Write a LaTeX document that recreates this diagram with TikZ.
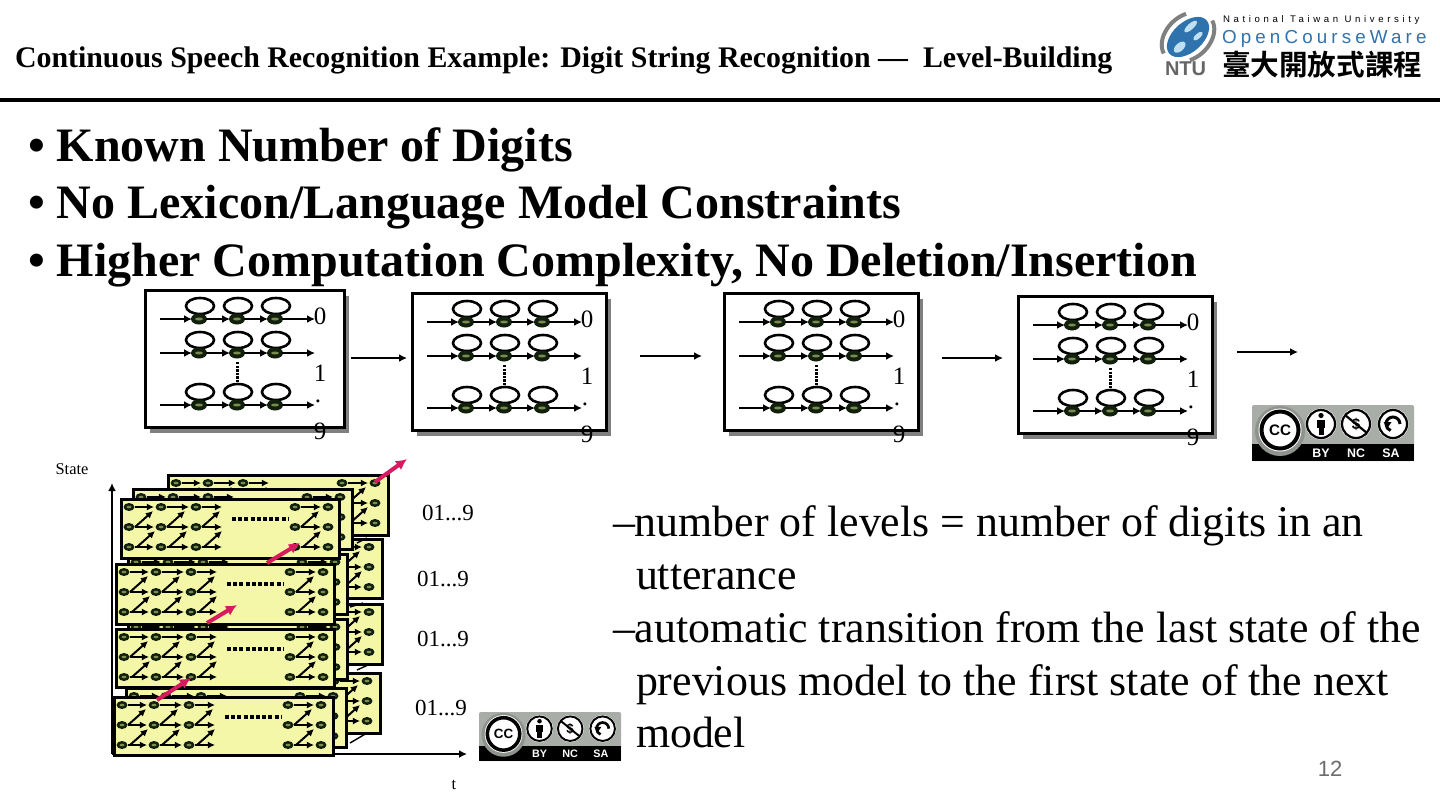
\documentclass[tikz,border=0pt]{standalone}
\usepackage{fontspec}
\setmainfont{Liberation Serif}
\setsansfont{Liberation Sans}
\newfontfamily\cjk[BoldFont={Noto Sans CJK TC Bold}]{Noto Sans CJK TC}
\newfontfamily\spaced[LetterSpace=38]{Liberation Sans}
\newfontfamily\spacedo[LetterSpace=22]{Liberation Sans}
\usetikzlibrary{arrows.meta}
\definecolor{cellyellow}{HTML}{F4F7A8}
\definecolor{statefill}{HTML}{7C8A50}
\definecolor{statedark}{HTML}{10200C}
\definecolor{pinkarrow}{HTML}{D81B60}
\definecolor{shadowgray}{HTML}{808080}
\definecolor{ccgray}{HTML}{A8ADA8}
\definecolor{cchalo}{HTML}{8E938E}
\definecolor{oblue}{HTML}{2F73AE}
\definecolor{lblue}{HTML}{BFE0F2}
\tikzset{
  base/.style={inner sep=0pt,outer sep=0pt,anchor=base west,text=black},
  title/.style={base,font=\bfseries\fontsize{14.94}{15}\selectfont},
  bullet/.style={base,font=\bfseries\fontsize{24}{25}\selectfont},
  bodytext/.style={base,font=\fontsize{21.93}{23}\selectfont},
  digit/.style={inner sep=0pt,font=\fontsize{12.5}{13}\selectfont},
  lev/.style={inner sep=0pt,font=\fontsize{11.5}{12}\selectfont},
  small/.style={inner sep=0pt,font=\fontsize{8.2}{9}\selectfont},
  flow/.style={line width=1.3pt,-{Latex[length=4pt,width=4pt]}},
  zig/.style={line width=1pt,-{Latex[length=3.6pt,width=3.6pt]}},
  pink/.style={line width=2pt,pinkarrow,-{Latex[length=5.5pt,width=5.5pt]}},
}
% HMM box: name, x, y, w, h
\newcommand{\hmmbox}[5]{%
  \fill[shadowgray] (#2+6,#3+7) rectangle ++(#4,#5);
  \node[draw=black,line width=1.7pt,fill=white,inner sep=0pt,minimum width=#4*.5pt,minimum height=#5*.5pt,anchor=north west] (#1) at (#2,#3) {};
  \foreach \r/\yy in {a/30,b/64,c/116}{
    \coordinate (#1\r i) at (#2+16,#3+\yy);
    \coordinate (#1\r e) at (#2+171,#3+\yy);
    \foreach \s/\xx in {1/55,2/93,3/131}{
      \draw[line width=1.3pt] (#2+\xx+1,#3+\yy-13) ellipse [x radius=14,y radius=8];
      \coordinate (#1\r\s) at (#2+\xx,#3+\yy);
      \fill[statedark] (#2+\xx,#3+\yy) ellipse [x radius=8,y radius=5.5];
      \fill[statefill] (#2+\xx,#3+\yy) ellipse [x radius=4,y radius=1.5];
    }
    \draw[flow] (#1\r i) -- (#2+48,#3+\yy);
    \draw[flow] (#2+62,#3+\yy) -- (#2+86,#3+\yy);
    \draw[flow] (#2+100,#3+\yy) -- (#2+124,#3+\yy);
    \draw[flow] (#2+138,#3+\yy) -- (#1\r e);
  }
  \draw[line width=1.5pt,dash pattern=on 1.2pt off .6pt] (#1b2)++(0,9) -- ++(0,20);
}
\newcommand{\gridstate}[2]{%
  \fill[statedark] (#1,#2) ellipse [x radius=5.5,y radius=4];
  \fill[statefill] (#1,#2) ellipse [x radius=2.5,y radius=1.3];
}
% Yellow level box: name x y w h
\newcommand{\levbox}[5]{%
  \node[draw=black,line width=1.7pt,fill=cellyellow,inner sep=0pt,minimum width=#4*.5pt,minimum height=#5*.5pt,anchor=north west] (#1) at (#2,#3) {};
  \foreach \dy in {9,29,49}{
    \foreach \dx in {9,41,76}{\gridstate{#2+\dx}{#3+\dy}}
    \gridstate{#2+175}{#3+\dy}
    \gridstate{#2+208}{#3+\dy}
    \draw[zig] (#2+15,#3+\dy) -- (#2+34,#3+\dy);
    \draw[zig] (#2+47,#3+\dy) -- (#2+69,#3+\dy);
    \draw[zig] (#2+82,#3+\dy) -- (#2+102,#3+\dy);
    \draw[zig] (#2+181,#3+\dy) -- (#2+201,#3+\dy);
  }
  \foreach \dx in {9,41,76}{
    \draw[zig] (#2+\dx+6,#3+29) -- (#2+\dx+24,#3+13);
    \draw[zig] (#2+\dx+8,#3+49) -- (#2+\dx+26,#3+33);
  }
  \draw[zig] (#2+181,#3+29) -- (#2+199,#3+13);
  \draw[zig] (#2+183,#3+49) -- (#2+201,#3+33);
  \draw[line width=2pt,dash pattern=on 2pt off 1.1pt] (#2+112,#3+21) -- (#2+168,#3+21);
}
% CC badge: name x y scale bigfont smallfont
\newcommand{\ccbadge}[6]{%
\begin{scope}[shift={(#2,#3)},x=#4*.5pt,y=-#4*.5pt]
  \fill[ccgray,rounded corners=1pt] (0,0) rectangle (162,56);
  \fill[black] (0,39) rectangle (162,56);
  \coordinate (#1) at (81,28);
  \fill[cchalo] (28,26) circle (25);
  \fill[white] (28,25) circle (21.5);
  \draw[black,line width=#4*2pt] (28,25) circle (18.5);
  \node[inner sep=0pt,font=\sffamily\bfseries\fontsize{#5}{#5}\selectfont] (#1cc) at (28,25) {CC};
  \foreach \xx in {69,104,141}{\fill[white] (\xx,19) circle (15.5);\draw[black,line width=#4*1.1pt] (\xx,19) circle (14);}
  \fill[black] (69,10.5) circle (2.6);
  \fill[black] (65,14.5) rectangle (73,23);
  \fill[black] (66.5,23) rectangle (71.5,30);
  \node[inner sep=0pt,font=\sffamily\bfseries\fontsize{#5}{#5}\selectfont] (#1d) at (104,19) {\$};
  \draw[black,line width=#4*1.1pt] (93,10) -- (115,28);
  \draw[black,line width=#4*1.5pt] (148,19) arc (0:-250:7);
  \fill[black] (131.5,17) -- (139.5,17) -- (135.5,23) -- cycle;
  \node[inner sep=0pt,text=white,font=\sffamily\bfseries\fontsize{#6}{#6}\selectfont] (#1by) at (69,48) {BY};
  \node[inner sep=0pt,text=white,font=\sffamily\bfseries\fontsize{#6}{#6}\selectfont] (#1nc) at (104,48) {NC};
  \node[inner sep=0pt,text=white,font=\sffamily\bfseries\fontsize{#6}{#6}\selectfont] (#1sa) at (139,48) {SA};
\end{scope}}
\begin{document}
\begin{tikzpicture}[x=.5pt,y=-.5pt]
\useasboundingbox (0,0) rectangle (1440,810);
\fill[white] (0,0) rectangle (1440,810);
% header
\node[title] (ttl) at (15,67) {Continuous Speech Recognition Example: Digit String Recognition — \ Level-Building};
\coordinate (ruleL) at (0,100);
\coordinate (ruleR) at (1440,100);
\draw[line width=2.4pt] (ruleL) -- (ruleR);
% logo
\begin{scope}[shift={(1188,37)},rotate=42]
  \draw[gray,line width=2pt] (-29,-4) arc (190:300:29 and 21);
  \draw[gray,line width=2pt] (29,4) arc (10:120:29 and 21);
  \fill[oblue] (0,0) ellipse [x radius=25,y radius=15];
  \fill[lblue] (-13,2) ellipse [x radius=7,y radius=4];
  \fill[lblue] (9,-6) ellipse [x radius=8,y radius=3];
  \fill[lblue] (8,6) ellipse [x radius=6,y radius=2.5];
\end{scope}
\node[base,text=gray!80!black,font=\sffamily\bfseries\fontsize{10}{10}\selectfont] (ntu) at (1165,75) {NTU};
\node[base,font=\spaced\fontsize{4.8}{5}\selectfont] (ntutxt) at (1223,22) {National Taiwan University};
\node[base,text=oblue,font=\spacedo\fontsize{9.4}{10}\selectfont] (ocw) at (1222,43) {OpenCourseWare};
\node[base,font=\cjk\bfseries\fontsize{14.3}{15}\selectfont] (cjktxt) at (1222,75) {臺大開放式課程};
% bullets
\node[bullet] (bu1) at (28,161) {• Known Number of Digits};
\node[bullet] (bu2) at (28,218) {• No Lexicon/Language Model Constraints};
\node[bullet] (bu3) at (28,276) {• Higher Computation Complexity, No Deletion/Insertion};
% HMM boxes
\hmmbox{ha}{144}{289}{199}{137}
\hmmbox{hb}{411}{292}{194}{137}
\hmmbox{hc}{723}{292}{194}{137}
\hmmbox{hd}{1017}{295}{194}{137}
\foreach \n/\x/\y in {ha/320/289,hb/587/292,hc/899/292,hd/1193/295}{
  \node[digit] (\n d0) at (\x,\y+27) {0};
  \node[digit] (\n d1) at (\x,\y+84) {1};
  \node[digit] (\n dd) at (\x-2,\y+112) {.};
  \node[digit] (\n d9) at (\x,\y+142) {9};
}
\coordinate (o1) at (351,358);\coordinate (o1e) at (407,358);
\coordinate (o2) at (640,356);\coordinate (o3) at (702,356);
\coordinate (p2) at (942,358);\coordinate (p3) at (1003,358);
\coordinate (q2) at (1237,352);\coordinate (q3) at (1298,352);
\draw[flow] (o1) -- (o1e);
\draw[flow] (o2) -- (o3);
\draw[flow] (p2) -- (p3);
\draw[flow] (q2) -- (q3);
% axes
\coordinate (ax0) at (112,754);
\coordinate (axy) at (112,483);
\coordinate (axx) at (467,754);
\draw[line width=1pt,-{Latex[length=4pt,width=4pt]}] (ax0) -- (axy);
\draw[line width=1.3pt,-{Latex[length=4pt,width=4pt]}] (ax0) -- (axx);
\node[small] (st) at (72,469) {State};
\node[small] (tl) at (454,785) {t};
% level boxes
\levbox{b1}{167}{474}{220}{60}
\levbox{b2}{161}{538}{220}{59}
\levbox{b3}{161}{603}{220}{60}
\levbox{b4}{159}{672}{220}{60}
\levbox{m1}{132}{488}{219}{60}
\levbox{m2}{127}{553}{219}{60}
\levbox{m3}{127}{618}{219}{60}
\levbox{m4}{125}{687}{220}{59}
\levbox{f1}{120}{498}{218}{59}
\levbox{f2}{115}{563}{218}{60}
\levbox{f3}{115}{628}{218}{58}
\levbox{f4}{113}{696}{219}{58}
\foreach \a/\b/\c/\d/\n in {350/743/367/733/s1,357/670/368/665/s2,357/543/367/538/s3,350/607/363/603/s4}{
  \coordinate (\n a) at (\a,\b);\coordinate (\n b) at (\c,\d);
  \draw[line width=.7pt] (\n a) -- (\n b);
}
\coordinate (pa1) at (375,482);\coordinate (pa2) at (407,459);
\coordinate (pb1) at (267,563);\coordinate (pb2) at (300,543);
\coordinate (pc1) at (207,623);\coordinate (pc2) at (237,605);
\coordinate (pd1) at (157,700);\coordinate (pd2) at (191,678);
\foreach \n in {a,b,c,d}{\draw[pink] (p\n1) -- (p\n2);}
\node[lev] (l1) at (448,513) {01...9};
\node[lev] (l2) at (443,579) {01...9};
\node[lev] (l3) at (443,639) {01...9};
\node[lev] (l4) at (441,708) {01...9};
% cc badges
\ccbadge{cca}{1252}{405}{1}{7.6}{6.2}
\ccbadge{ccb}{479}{712}{.877}{6.7}{5.4}
% body
\node[bodytext] (t1) at (613,536) {–number of levels = number of digits in an};
\node[bodytext] (t2) at (636,589) {utterance};
\node[bodytext] (t3) at (613,642) {–automatic transition from the last state of the};
\node[bodytext] (t4) at (636,695) {previous model to the first state of the next};
\node[bodytext] (t5) at (636,747) {model};
\node[inner sep=0pt,text=gray!85!black,font=\sffamily\fontsize{11}{12}\selectfont] (pg) at (1330,769) {12};
\end{tikzpicture}
\end{document}
